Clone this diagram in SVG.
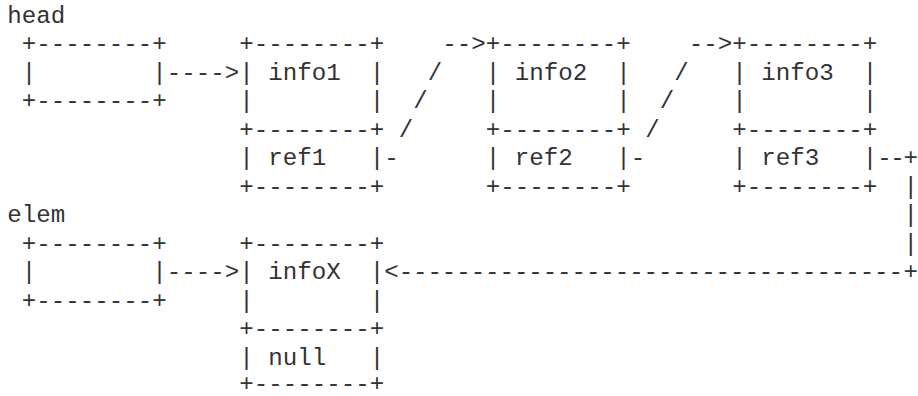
<svg xmlns="http://www.w3.org/2000/svg" width="918" height="396" viewBox="0 0 918 396" xml:space="preserve">
<style>
text{font-family:"Liberation Mono","Courier New",monospace;font-size:24.17px;fill:#333;white-space:pre}
.tight{letter-spacing:-0.09px}
.tight2{letter-spacing:-1.5px}
</style>
<rect width="918" height="396" fill="#fff"/>
<g id="label-head"><text x="7.25" y="22.7">head</text></g>
<g id="node-head">
<text x="21.75" y="51.2">+--------+</text>
<text x="21.75" y="79.7">|        |</text>
<text x="21.75" y="108.2">+--------+</text>
</g>
<g id="node-1">
<text x="239.25" y="51.2">+--------+</text>
<text x="239.25" y="79.7">| info1  |</text>
<text x="239.25" y="108.2">|        |</text>
<text x="239.25" y="136.7">+--------+</text>
<text x="239.25" y="165.2">| ref1   |</text>
<text x="239.25" y="193.7">+--------+</text>
</g>
<g id="node-2">
<text x="485.75" y="51.2">+--------+</text>
<text x="485.75" y="79.7">| info2  |</text>
<text x="485.75" y="108.2">|        |</text>
<text x="485.75" y="136.7">+--------+</text>
<text x="485.75" y="165.2">| ref2   |</text>
<text x="485.75" y="193.7">+--------+</text>
</g>
<g id="node-3">
<text x="732.25" y="51.2">+--------+</text>
<text x="732.25" y="79.7">| info3  |</text>
<text x="732.25" y="108.2">|        |</text>
<text x="732.25" y="136.7">+--------+</text>
<text x="732.25" y="165.2">| ref3   |</text>
<text x="732.25" y="193.7">+--------+</text>
</g>
<g id="label-elem"><text x="7.25" y="222.2">elem</text></g>
<g id="node-elem">
<text x="21.75" y="250.7">+--------+</text>
<text x="21.75" y="279.2">|        |</text>
<text x="21.75" y="307.7">+--------+</text>
</g>
<g id="node-x">
<text x="239.25" y="250.7">+--------+</text>
<text x="239.25" y="279.2">| infoX  |</text>
<text x="239.25" y="307.7">|        |</text>
<text x="239.25" y="336.2">+--------+</text>
<text x="239.25" y="364.7">| null   |</text>
<text x="239.25" y="391.2">+--------+</text>
</g>
<g id="connectors">
<text x="166.75" y="79.7">----&gt;</text>
<text x="166.75" y="279.2">----&gt;</text>
<text x="384.25" y="165.2">-</text>
<text x="398.75" y="136.7">/</text>
<text x="413.25" y="108.2">/</text>
<text x="427.75" y="79.7">/</text>
<text x="442.25" y="51.2">--&gt;</text>
<text x="630.75" y="165.2">-</text>
<text x="645.25" y="136.7">/</text>
<text x="659.75" y="108.2">/</text>
<text x="674.25" y="79.7">/</text>
<text x="688.75" y="51.2">--&gt;</text>
<text class="tight2" x="877.25" y="165.2">--</text>
<text x="903.5" y="165.2">+</text>
<text x="903.5" y="193.7">|</text>
<text x="903.5" y="222.2">|</text>
<text x="903.5" y="250.7">|</text>
<text class="tight" x="384.25" y="279.2">&lt;-----------------------------------</text>
<text x="903.5" y="279.2">+</text>
</g>
</svg>
